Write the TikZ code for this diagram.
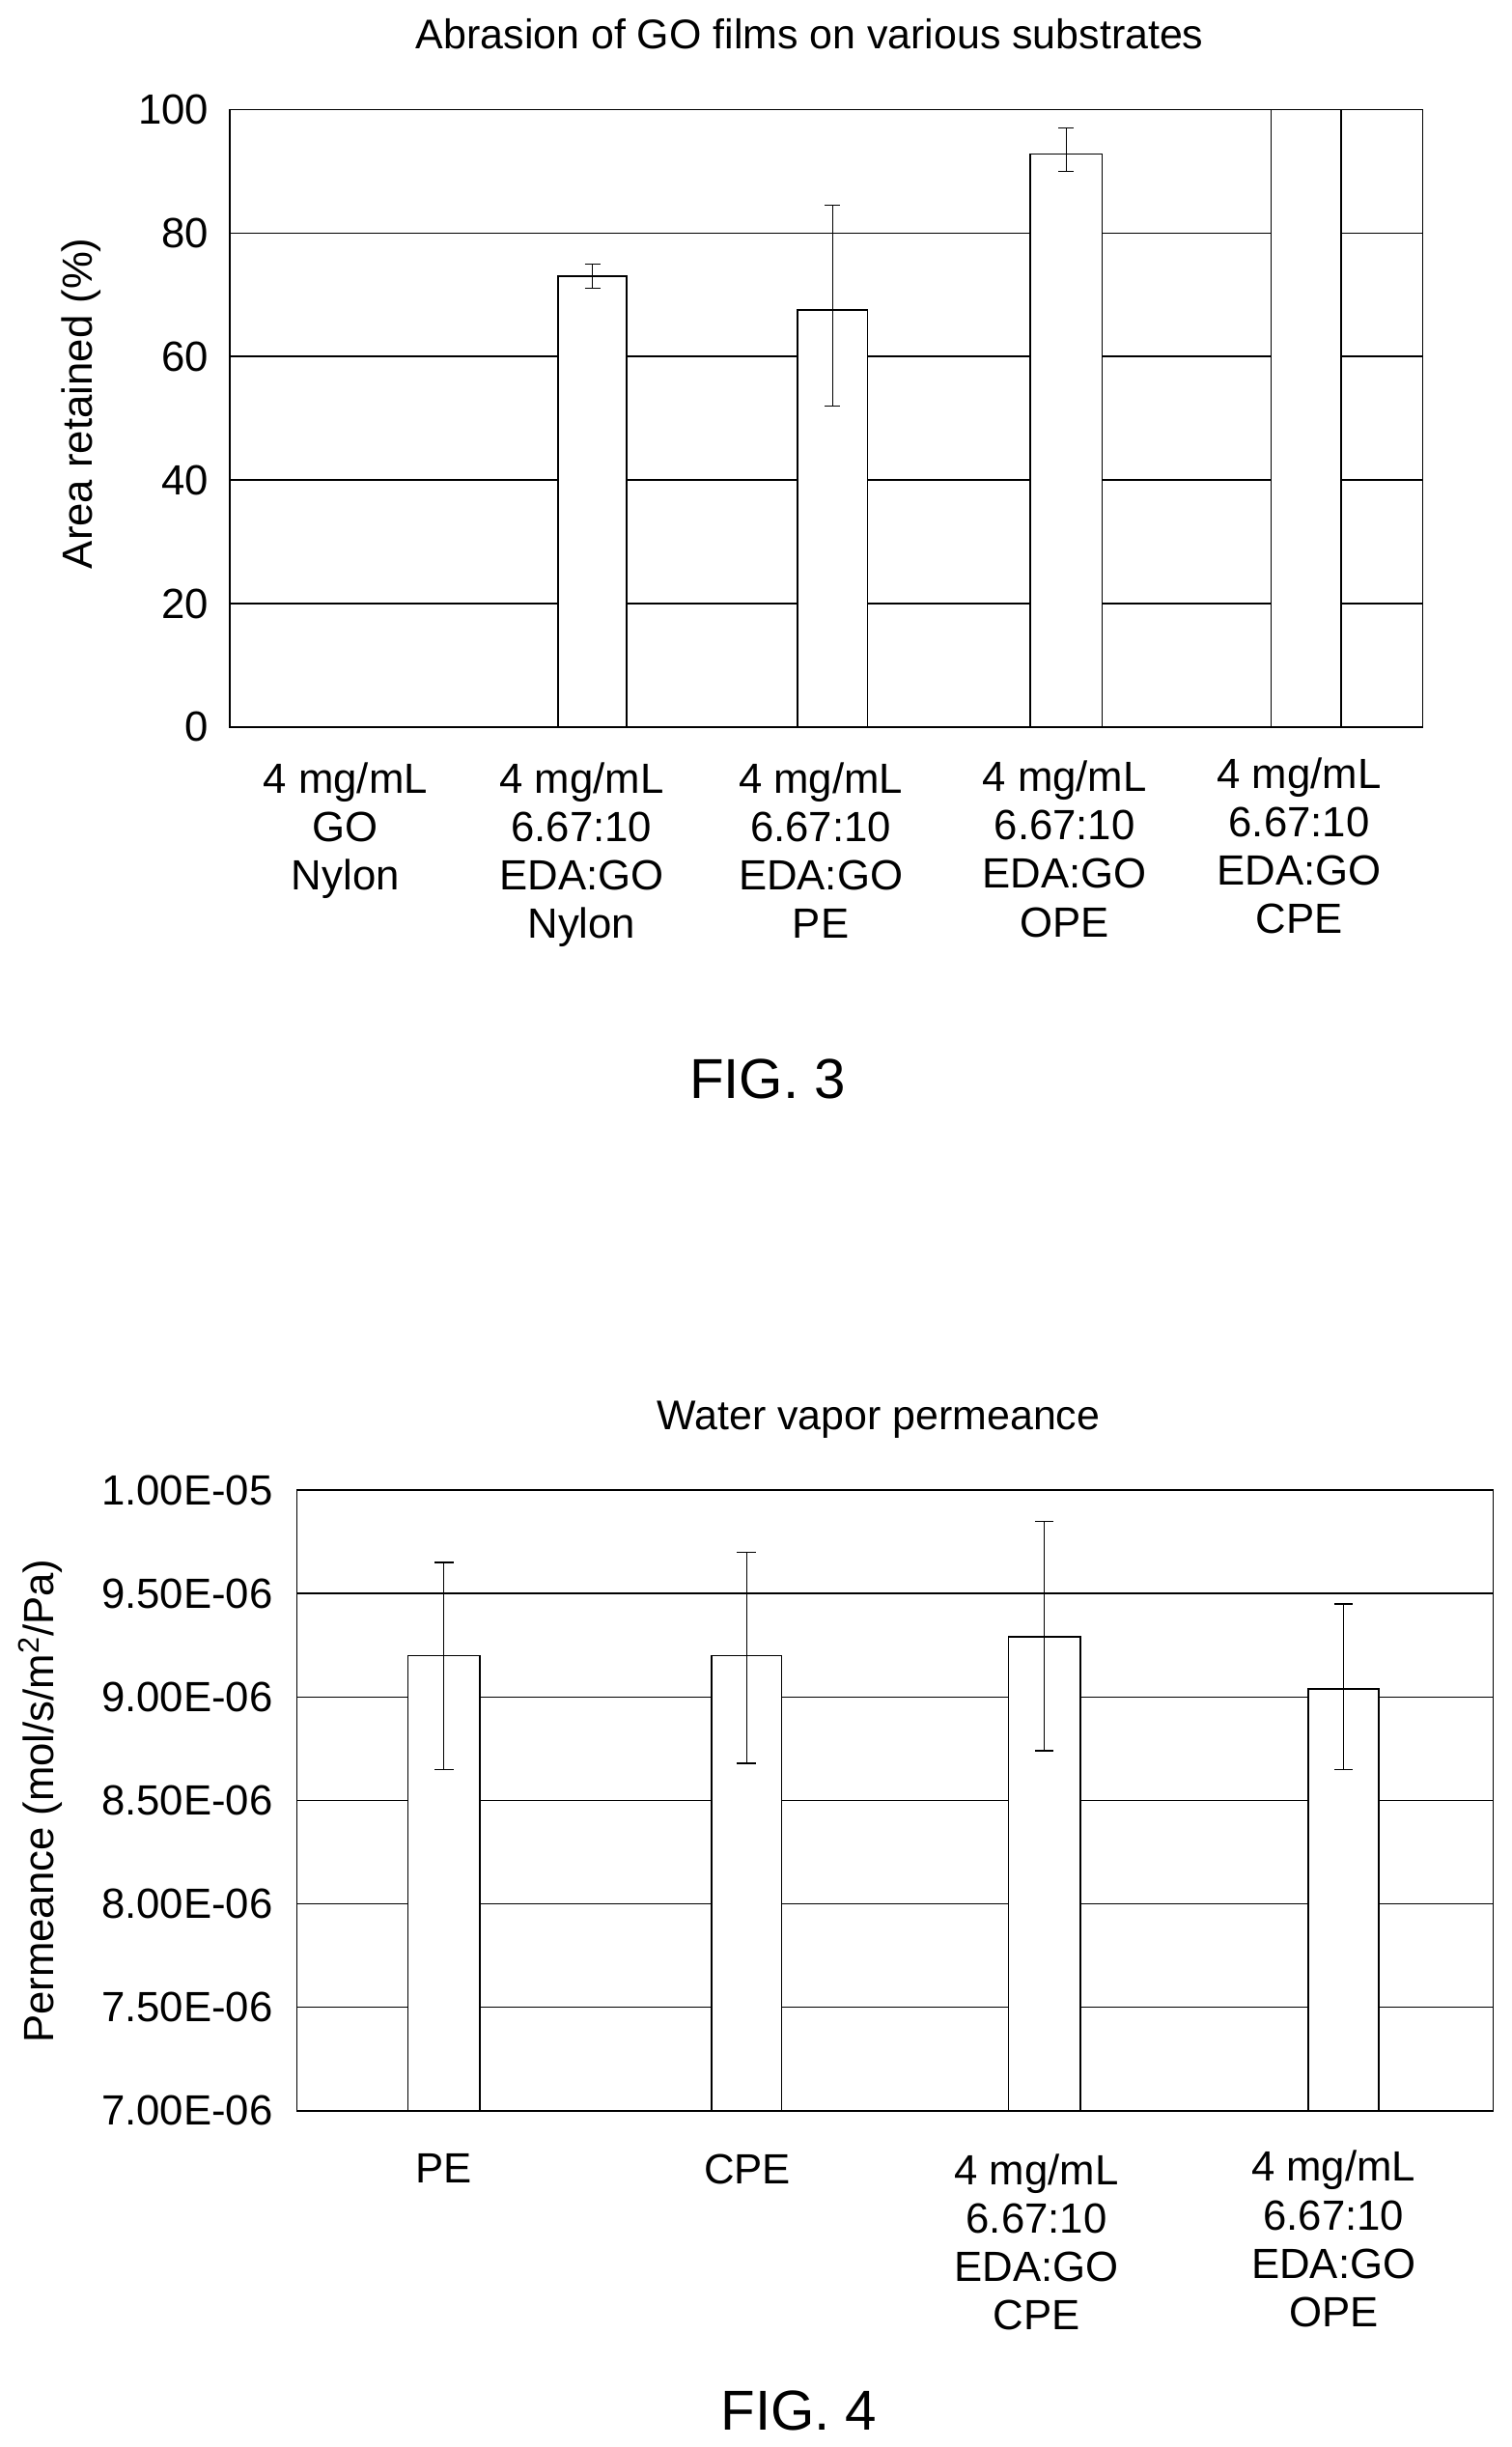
\documentclass[tikz,border=0pt]{standalone}
\usepackage{fontspec}
\setmainfont{Liberation Sans}
\begin{document}
\begin{tikzpicture}[x=1pt,y=-1pt,
  grid/.style={black,line width=0.9pt},
  bar/.style={draw=black,fill=white,line width=1pt},
  err/.style={black,line width=0.8pt},
  tick/.style={anchor=east,font=\fontsize{27}{27}\selectfont},
  cat/.style={align=center,anchor=north,font=\fontsize{27}{31}\selectfont},
  ttl/.style={font=\fontsize{26.5}{27}\selectfont}]
\useasboundingbox (0,0) rectangle (967,1565);
% ---------- FIG 3 ----------
\node[ttl] (t3) at (518,22) {Abrasion of GO films on various substrates};
\foreach \v in {20,40,60,80}{\draw[grid] (147,{465-3.95*\v}) -- (910,{465-3.95*\v});}
\foreach \v in {0,20,40,60,80,100}{\node[tick] (a\v) at (137,{465-3.95*\v}) {\v};}
\node[rotate=90,font=\fontsize{27}{27}\selectfont] (yl3) at (52,258) {Area retained (\%)};
\foreach \xa/\xb/\v [count=\i] in {357/401/73,510/555/67.5,659/705/92.8,813/858/100}
  {\draw[bar] (\xa,465) rectangle (\xb,{465-3.95*\v});}
\foreach \xc/\lo/\hi in {379/71/75,532.5/52/84.5,682/90/97}{
  \draw[err] (\xc,{465-3.95*\lo}) -- (\xc,{465-3.95*\hi});
  \draw[err] (\xc-5,{465-3.95*\lo}) -- (\xc+5,{465-3.95*\lo});
  \draw[err] (\xc-5,{465-3.95*\hi}) -- (\xc+5,{465-3.95*\hi});}
\draw[line width=1pt] (147,70) rectangle (910,465);
\node[cat] (c1) at (221,484) {4 mg/mL\\GO\\Nylon};
\node[cat] (c2) at (372,484) {4 mg/mL\\6.67:10\\EDA:GO\\Nylon};
\node[cat] (c3) at (525,484) {4 mg/mL\\6.67:10\\EDA:GO\\PE};
\node[cat] (c4) at (681,483) {4 mg/mL\\6.67:10\\EDA:GO\\OPE};
\node[cat] (c5) at (831,481) {4 mg/mL\\6.67:10\\EDA:GO\\CPE};
\node[font=\fontsize{36}{36}\selectfont] (f3) at (491,690) {FIG. 3};
% ---------- FIG 4 ----------
\node[ttl] (t4) at (562,908) {Water vapor permeance};
\foreach \k in {1,...,5}{\draw[grid] (190,{1350-66.17*\k}) -- (955,{1350-66.17*\k});}
\foreach \k/\l in {0/7.00E-06,1/7.50E-06,2/8.00E-06,3/8.50E-06,4/9.00E-06,5/9.50E-06,6/1.00E-05}
  {\node[tick] (b\k) at (178,{1350-66.17*\k}) {\l};}
\node[rotate=90,font=\fontsize{27}{27}\selectfont] (yl4) at (26,1152) {Permeance (mol/s/m\textsuperscript{2}/Pa)};
\foreach \xa/\xb/\v in {261/307/9.2,455/500/9.2,645/691/9.29,837/882/9.04}
  {\draw[bar] (\xa,1350) rectangle (\xb,{1350-132.33*(\v-7)});}
\foreach \xc/\lo/\hi in {284/8.65/9.65,477.5/8.68/9.70,668/8.74/9.85,859.5/8.65/9.45}{
  \draw[err] (\xc,{1350-132.33*(\lo-7)}) -- (\xc,{1350-132.33*(\hi-7)});
  \draw[err] (\xc-6,{1350-132.33*(\lo-7)}) -- (\xc+6,{1350-132.33*(\lo-7)});
  \draw[err] (\xc-6,{1350-132.33*(\hi-7)}) -- (\xc+6,{1350-132.33*(\hi-7)});}
\draw[line width=1pt] (190,953) rectangle (955,1350);
\node[cat] (d1) at (284,1374) {PE};
\node[cat] (d2) at (478,1374) {CPE};
\node[cat] (d3) at (663,1374) {4 mg/mL\\6.67:10\\EDA:GO\\CPE};
\node[cat] (d4) at (853,1372) {4 mg/mL\\6.67:10\\EDA:GO\\OPE};
\node[font=\fontsize{36}{36}\selectfont] (f4) at (511,1542) {FIG. 4};
\end{tikzpicture}
\end{document}
